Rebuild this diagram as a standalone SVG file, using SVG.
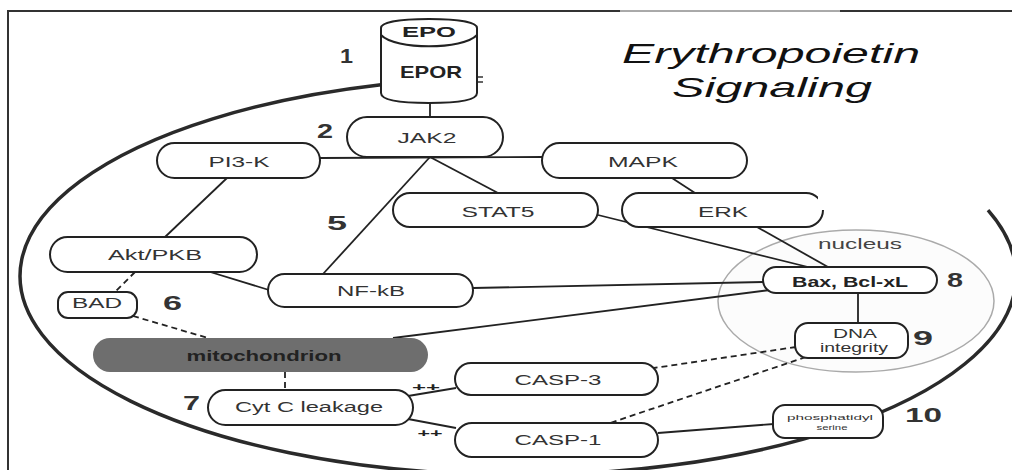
<svg xmlns="http://www.w3.org/2000/svg" width="1012" height="470" viewBox="0 0 1012 470">
<defs>
<style>
.pill{fill:#fff;stroke:#222;stroke-width:2}
.ln{fill:none;stroke:#222;stroke-width:1.8}
.dash{fill:none;stroke:#222;stroke-width:1.8;stroke-dasharray:6,4}
.t{font-family:"Liberation Sans",Arial,sans-serif;font-size:14px;fill:#333;text-anchor:middle}
.b{font-weight:bold;fill:#222}
.num{font-family:"Liberation Sans",Arial,sans-serif;font-size:20px;font-weight:bold;fill:#333}
.title{font-family:"Liberation Sans",Arial,sans-serif;font-size:28px;font-style:italic;fill:#111;text-anchor:middle}
</style>
</defs>
<rect x="0" y="0" width="1012" height="470" fill="#fff"/>
<!-- frame -->
<g id="frame">
<path d="M8 10 V470" stroke="#333" stroke-width="2" fill="none"/>
<path d="M7 11 H620" stroke="#333" stroke-width="2" fill="none"/>
<path d="M620 11 H840" stroke="#555" stroke-width="1" fill="none"/>
<path d="M840 11 H1012" stroke="#333" stroke-width="2" fill="none"/>
</g>
<!-- cell membrane -->
<g id="membrane">
<path d="M381 84.7 A498 199 0 1 0 988 210.2" fill="none" stroke="#2a2a2a" stroke-width="3.5"/>
<path d="M477 77 H483 M477 82 H483" stroke="#333" stroke-width="1.5"/>
</g>
<!-- nucleus -->
<g id="nucleus">
<ellipse cx="856" cy="301" rx="138" ry="71" fill="#fcfcfc" stroke="#aaa" stroke-width="1.5"/>
<text class="t" x="860" y="249" textLength="84" lengthAdjust="spacingAndGlyphs" style="fill:#444">nucleus</text>
</g>
<!-- connectors -->
<g id="connectors">
<path class="ln" d="M430 103 V117"/>
<path class="ln" d="M320 158 L542 157"/>
<path class="ln" d="M430 157 L498 193"/>
<path class="ln" d="M430 157 L323 274"/>
<path class="ln" d="M672 178 L695 193"/>
<path class="ln" d="M227 178 L165 237"/>
<path class="ln" d="M207 271 L269 290"/>
<path class="ln" d="M473 288 L763 282"/>
<path class="ln" d="M770 290 L393 338"/>
<path class="ln" d="M598 215 L808 267"/>
<path class="ln" d="M757 227 L828 267"/>
<path class="ln" d="M858 293 V323"/>
<path class="ln" d="M408 396 L456 388"/>
<path class="ln" d="M408 419 L456 428"/>
<path class="ln" d="M658 433 L774 424"/>
<path class="dash" d="M135 272 L115 292"/>
<path class="dash" d="M133 316 L208 338"/>
<path class="dash" d="M285 372 V390"/>
<path class="dash" d="M796 347 L654 368"/>
<path class="dash" d="M806 357 L610 423"/>
</g>
<!-- EPO / EPOR -->
<g id="epor">
<path d="M381 35 V93 C381 100 400 103 429 103 C458 103 477 100 477 93 V35" fill="#fff" stroke="#222" stroke-width="2"/>
<path d="M381 35 V28 C381 22 400 19 429 19 C458 19 477 22 477 28 V35 C463 50 395 50 381 35 Z" fill="#fff" stroke="#222" stroke-width="2"/>
<text class="t b" x="429" y="37" style="font-size:15px" textLength="54" lengthAdjust="spacingAndGlyphs">EPO</text>
<text class="t b" x="431" y="78" style="font-size:17px" textLength="62" lengthAdjust="spacingAndGlyphs">EPOR</text>
</g>
<g id="jak2">
<rect class="pill" x="347" y="117" width="156" height="40" rx="20"/>
<text class="t" x="427" y="143" style="font-size:15px" textLength="59" lengthAdjust="spacingAndGlyphs">JAK2</text>
</g>
<g id="pi3k">
<rect class="pill" x="157" y="143" width="163" height="35" rx="17.5"/>
<text class="t" x="239" y="167" textLength="61" lengthAdjust="spacingAndGlyphs">PI3-K</text>
</g>
<g id="mapk">
<rect class="pill" x="542" y="143" width="205" height="35" rx="17.5"/>
<text class="t" x="643" y="167" textLength="70" lengthAdjust="spacingAndGlyphs">MAPK</text>
</g>
<g id="stat5">
<rect class="pill" x="393" y="193" width="205" height="34" rx="17"/>
<text class="t" x="498" y="217" textLength="73" lengthAdjust="spacingAndGlyphs">STAT5</text>
</g>
<g id="erk">
<rect class="pill" x="622" y="193" width="201" height="34" rx="17"/>
<rect x="818" y="180" width="12" height="30" fill="#fff"/>
<text class="t" x="723" y="217" textLength="50" lengthAdjust="spacingAndGlyphs">ERK</text>
</g>
<g id="akt">
<rect class="pill" x="50" y="237" width="207" height="35" rx="17.5"/>
<text class="t" x="155" y="260" textLength="94" lengthAdjust="spacingAndGlyphs">Akt/PKB</text>
</g>
<g id="nfkb">
<rect class="pill" x="268" y="274" width="205" height="33" rx="16.5"/>
<text class="t" x="371" y="296" textLength="68" lengthAdjust="spacingAndGlyphs">NF-kB</text>
</g>
<g id="bad">
<rect class="pill" x="58" y="292" width="79" height="26" rx="10"/>
<text class="t" x="97" y="308" textLength="50" lengthAdjust="spacingAndGlyphs">BAD</text>
</g>
<g id="bax">
<rect class="pill" x="763" y="267" width="174" height="26" rx="13"/>
<text class="t b" x="850" y="287" textLength="116" lengthAdjust="spacingAndGlyphs">Bax, Bcl-xL</text>
</g>
<g id="mitochondrion">
<rect x="93" y="338" width="335" height="34" rx="17" fill="#6e6e6e"/>
<text class="t b" x="264" y="361" textLength="155" lengthAdjust="spacingAndGlyphs">mitochondrion</text>
</g>
<g id="cytc">
<rect class="pill" x="208" y="390" width="205" height="35" rx="17.5"/>
<text class="t" x="309" y="412" textLength="148" lengthAdjust="spacingAndGlyphs">Cyt C leakage</text>
</g>
<g id="casp3">
<rect class="pill" x="455" y="363" width="203" height="32" rx="16"/>
<text class="t" x="558" y="385" textLength="87" lengthAdjust="spacingAndGlyphs">CASP-3</text>
</g>
<g id="casp1">
<rect class="pill" x="455" y="423" width="203" height="34" rx="17"/>
<text class="t" x="558" y="445" textLength="87" lengthAdjust="spacingAndGlyphs">CASP-1</text>
</g>
<g id="dna">
<rect class="pill" x="795" y="323" width="113" height="35" rx="13"/>
<text class="t" x="855" y="338" style="font-size:12px" textLength="44" lengthAdjust="spacingAndGlyphs">DNA</text>
<text class="t" x="854" y="352" style="font-size:12px" textLength="68" lengthAdjust="spacingAndGlyphs">integrity</text>
</g>
<g id="phosphatidylserine">
<rect class="pill" x="773" y="405" width="110" height="33" rx="12"/>
<text class="t" x="830" y="420" style="font-size:8px" textLength="86" lengthAdjust="spacingAndGlyphs">phosphatidyl</text>
<text class="t" x="832" y="430" style="font-size:8px" textLength="31" lengthAdjust="spacingAndGlyphs">serine</text>
</g>
<!-- labels -->
<g id="labels">
<text class="t b" x="426" y="391" style="font-size:11px" textLength="28" lengthAdjust="spacingAndGlyphs">++</text>
<text class="t b" x="430" y="437" style="font-size:11px" textLength="25" lengthAdjust="spacingAndGlyphs">++</text>
<text class="num" x="340" y="63" textLength="13" lengthAdjust="spacingAndGlyphs">1</text>
<text class="num" x="317" y="138" textLength="16" lengthAdjust="spacingAndGlyphs">2</text>
<text class="num" x="327" y="230" textLength="20" lengthAdjust="spacingAndGlyphs">5</text>
<text class="num" x="163" y="310" textLength="19" lengthAdjust="spacingAndGlyphs">6</text>
<text class="num" x="183" y="410" textLength="17" lengthAdjust="spacingAndGlyphs">7</text>
<text class="num" x="947" y="287" textLength="16" lengthAdjust="spacingAndGlyphs">8</text>
<text class="num" x="913" y="345" textLength="20" lengthAdjust="spacingAndGlyphs">9</text>
<text class="num" x="905" y="422" textLength="37" lengthAdjust="spacingAndGlyphs">10</text>
</g>
<g id="title">
<text class="title" x="771" y="63" textLength="298" lengthAdjust="spacingAndGlyphs">Erythropoietin</text>
<text class="title" x="772" y="97" textLength="200" lengthAdjust="spacingAndGlyphs">Signaling</text>
</g>
</svg>
